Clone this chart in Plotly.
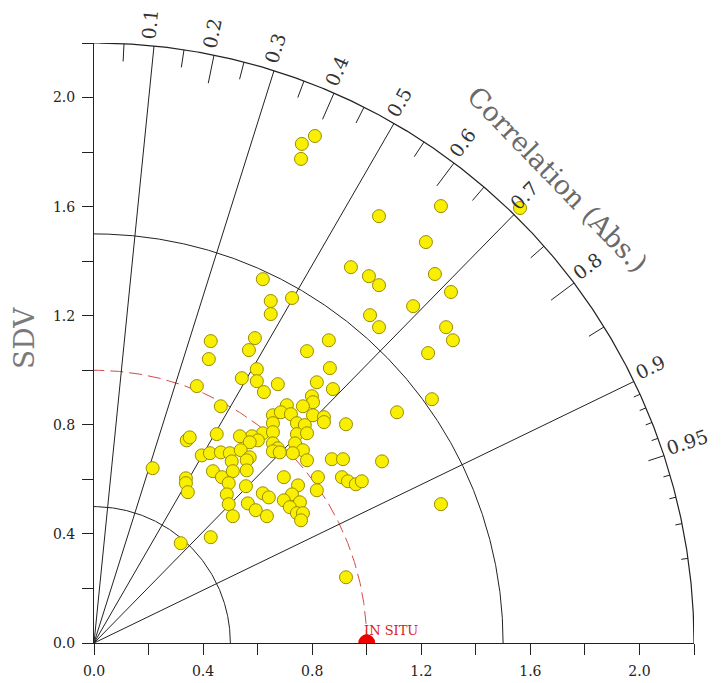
import numpy as np
import plotly.graph_objects as go

# ---------------- data (normalised SD projected on the axes) ----------------
# pt_x = SD * corr ; pt_y = SD * sqrt(1 - corr^2)
pt_x = [0.810, 0.762, 0.759, 1.272, 1.045, 1.562, 1.217, 0.942, 1.008, 1.045,
        1.250, 1.309, 1.170, 1.012, 1.045, 1.291, 1.316, 0.861, 1.225, 1.239,
        1.111, 1.056, 1.272, 0.924, 0.865, 0.817, 0.876, 0.799, 0.803, 0.803,
        0.843, 0.843, 0.924, 0.872, 0.913, 0.821, 0.909, 0.931, 0.960, 0.982,
        0.817, 0.619, 0.648, 0.726, 0.648, 0.428, 0.590, 0.568, 0.781, 0.421,
        0.597, 0.542, 0.597, 0.674, 0.377, 0.623, 0.465, 0.707, 0.766, 0.656,
        0.685, 0.722, 0.656, 0.744, 0.773, 0.619, 0.656, 0.579, 0.535, 0.450,
        0.340, 0.351, 0.744, 0.781, 0.656, 0.674, 0.737, 0.766, 0.601, 0.571,
        0.395, 0.425, 0.465, 0.498, 0.538, 0.571, 0.560, 0.505, 0.656, 0.681,
        0.729, 0.781, 0.215, 0.436, 0.469, 0.509, 0.560, 0.337, 0.494, 0.337,
        0.344, 0.487, 0.557, 0.696, 0.748, 0.619, 0.641, 0.726, 0.696, 0.755,
        0.564, 0.494, 0.718, 0.593, 0.744, 0.766, 0.634, 0.759, 0.509, 0.428,
        0.318]
pt_y = [1.859, 1.830, 1.775, 1.602, 1.565, 1.595, 1.470, 1.378, 1.345, 1.312,
        1.353, 1.287, 1.235, 1.202, 1.158, 1.158, 1.110, 1.110, 1.063, 0.894,
        0.846, 0.666, 0.509, 0.241, 1.008, 0.956, 0.931, 0.905, 0.883, 0.835,
        0.828, 0.810, 0.802, 0.674, 0.674, 0.608, 0.608, 0.593, 0.582, 0.593,
        0.560, 1.334, 1.254, 1.265, 1.206, 1.107, 1.118, 1.074, 1.070, 1.041,
        1.004, 0.971, 0.960, 0.949, 0.942, 0.920, 0.868, 0.872, 0.868, 0.835,
        0.846, 0.839, 0.806, 0.806, 0.799, 0.769, 0.773, 0.758, 0.758, 0.766,
        0.743, 0.754, 0.766, 0.769, 0.732, 0.714, 0.732, 0.707, 0.743, 0.736,
        0.688, 0.696, 0.699, 0.696, 0.707, 0.681, 0.670, 0.666, 0.703, 0.699,
        0.696, 0.670, 0.641, 0.630, 0.608, 0.630, 0.633, 0.604, 0.586, 0.586,
        0.553, 0.545, 0.575, 0.608, 0.578, 0.549, 0.534, 0.545, 0.523, 0.516,
        0.512, 0.509, 0.498, 0.487, 0.476, 0.476, 0.465, 0.450, 0.465, 0.388,
        0.366]

ref_sd = 1.0
ref_label = "IN SITU"
sd_arcs = [0.5, 1.5]
sd_max = 2.2
cor_lines = [0.1, 0.3, 0.5, 0.7, 0.9]
cor_labels = [0.1, 0.2, 0.3, 0.4, 0.5, 0.6, 0.7, 0.8, 0.9, 0.95]
cor_major = [0.2, 0.4, 0.6, 0.8]
cor_minor = [0.05, 0.15, 0.25, 0.35, 0.45, 0.55, 0.65, 0.75, 0.85]
cor_fine = [0.91, 0.92, 0.93, 0.94, 0.96, 0.97, 0.98, 0.99]
cor_mid = [0.95]
sd_tickvals = [0.0, 0.2, 0.4, 0.6, 0.8, 1.0, 1.2, 1.4, 1.6, 1.8, 2.0, 2.2]
sd_ticktext = ["0.0", "", "0.4", "", "0.8", "", "1.2", "", "1.6", "", "2.0", ""]

FONT = "DejaVu Serif"

fig = go.Figure()

th = np.linspace(0, np.pi / 2, 400)


def arc(r, **line):
    fig.add_trace(go.Scatter(x=r * np.cos(th), y=r * np.sin(th), mode="lines",
                             line=line, hoverinfo="skip", showlegend=False))


def paper(v):
    # the axes span exactly [0, sd_max] over the paper domain [0, 1]
    return v / sd_max


# grid arcs
for r in sd_arcs:
    arc(r, color="#222222", width=1)
arc(sd_max, color="#222222", width=1.2)
arc(ref_sd, color="#d84848", width=1, dash="13px,6px")

# radial correlation lines
lx, ly = [], []
for c in cor_lines:
    t = np.arccos(c)
    lx += [0, sd_max * np.cos(t), None]
    ly += [0, sd_max * np.sin(t), None]
fig.add_trace(go.Scatter(x=lx, y=ly, mode="lines", line=dict(color="#222222", width=1),
                         hoverinfo="skip", showlegend=False))

# ticks on the outer arc
tx, ty = [], []
for group, ln in ((cor_major, 0.105), (cor_minor, 0.065), (cor_fine, 0.025), (cor_mid, 0.06)):
    for c in group:
        t = np.arccos(c)
        tx += [sd_max * np.cos(t), (sd_max - ln) * np.cos(t), None]
        ty += [sd_max * np.sin(t), (sd_max - ln) * np.sin(t), None]
fig.add_trace(go.Scatter(x=tx, y=ty, mode="lines", line=dict(color="#222222", width=1),
                         hoverinfo="skip", showlegend=False))

# data points
fig.add_trace(go.Scatter(x=pt_x, y=pt_y, mode="markers",
                         marker=dict(size=13, color="#f8f000",
                                     line=dict(color="#9c8c00", width=1)),
                         showlegend=False))

# reference point
fig.add_trace(go.Scatter(x=[ref_sd], y=[0.0], mode="markers",
                         marker=dict(size=17, color="#ee0000", line=dict(width=0)),
                         showlegend=False))

# correlation labels
LBL = 19
for c in cor_labels:
    t = np.arccos(c)
    s = f"{c:g}"
    half = 0.5 * (len(s) * 0.53 * LBL) / 272.5
    r = sd_max + 0.022 + half
    d = 0.022
    fig.add_annotation(xref="paper", yref="paper",
                       x=paper(r * np.cos(t) - d * np.sin(t)),
                       y=paper(r * np.sin(t) + d * np.cos(t)),
                       text=s, showarrow=False, textangle=-np.degrees(t),
                       xanchor="center", yanchor="middle",
                       font=dict(family=FONT, size=LBL, color="#333333"))

fig.add_annotation(xref="paper", yref="paper", x=paper(1.70), y=paper(1.70),
                   text="Correlation (Abs.)", showarrow=False,
                   textangle=46, xanchor="center", yanchor="middle",
                   font=dict(family=FONT, size=27, color="#6a6a6a"))

fig.add_annotation(xref="paper", yref="paper", x=paper(-0.255), y=paper(1.12),
                   text="SDV", showarrow=False, textangle=-90,
                   xanchor="center", yanchor="middle",
                   font=dict(family=FONT, size=28, color="#7a7a7a"))

fig.add_annotation(xref="paper", yref="paper", x=paper(0.983), y=paper(0.046),
                   text=ref_label, showarrow=False,
                   xanchor="left", yanchor="middle",
                   font=dict(family=FONT, size=13, color="#dd2020"))

axis_common = dict(range=[0, sd_max], showgrid=False, zeroline=False, showline=True,
                   linecolor="#222222", linewidth=1, ticks="outside", ticklen=11,
                   tickcolor="#222222", tickvals=sd_tickvals, ticktext=sd_ticktext,
                   tickfont=dict(family=FONT, size=14, color="#222222"),
                   ticklabelstandoff=4, fixedrange=True, automargin=False)

# the page body adds an 8px offset, so the figure is 8px smaller than the window
fig.update_layout(
    width=714, height=675,
    margin=dict(l=86, r=28, t=35, b=40, pad=0, autoexpand=False),
    paper_bgcolor="white", plot_bgcolor="white",
    xaxis=axis_common,
    yaxis=axis_common,
    showlegend=False,
)

fig.write_html("out.html")
